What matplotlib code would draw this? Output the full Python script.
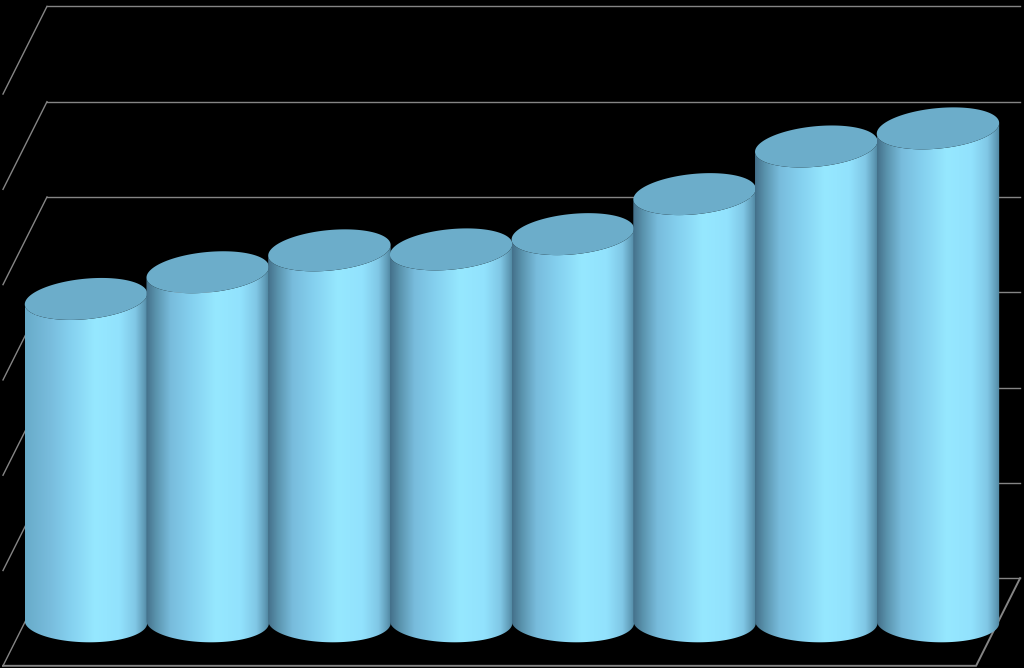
import numpy as np
import matplotlib
matplotlib.use("Agg")
import matplotlib.pyplot as plt
from matplotlib.colors import LinearSegmentedColormap
from matplotlib.patches import Polygon

categories = ["A", "B", "C", "D", "E", "F", "G", "H"]
values = [3.39, 3.67, 3.90, 3.91, 4.07, 4.49, 4.99, 5.18]
grid_levels = [0, 1, 2, 3, 4, 5, 6]

depth = 0.46
side_dx = 0.3615
bar_a = 0.503
bar_b = 0.213
lid_shear = 0.056

shade = LinearSegmentedColormap.from_list("cyl", [
    (0.00, "#44708a"), (0.08, "#5a93ad"), (0.20, "#78bcdc"), (0.36, "#84cfee"),
    (0.57, "#96e8ff"), (0.77, "#92e2fd"), (0.90, "#80c7e5"), (0.97, "#609bb7"),
    (1.00, "#4f86a0"),
])
shade_first = LinearSegmentedColormap.from_list("cyl1", [
    (0.00, "#68abc9"), (0.20, "#78bcdc"), (0.36, "#84cfee"),
    (0.57, "#96e8ff"), (0.77, "#92e2fd"), (0.90, "#80c7e5"), (0.97, "#609bb7"),
    (1.00, "#4f86a0"),
])


def lid_edge(val, t):
    return val + bar_b * np.sin(t) + lid_shear * np.cos(t)


fig = plt.figure(figsize=(10.24, 6.68), dpi=100, facecolor="black")
ax = fig.add_axes([0, 0, 1, 1])
ax.set_facecolor("black")
ax.axis("off")

left = -0.3205
right = 7.675
grid_color = "#858585"
for lev in grid_levels:
    ax.plot([left - side_dx, left], [lev - depth, lev + depth], color=grid_color, lw=1, zorder=1)
    ax.plot([left, right], [lev + depth, lev + depth], color=grid_color, lw=1, zorder=1)
# floor front edge and right side
ax.plot([left - side_dx, right - side_dx, right],
        [grid_levels[0] - depth, grid_levels[0] - depth, grid_levels[0] + depth],
        color=grid_color, lw=1.4, zorder=1)

t_low = np.linspace(np.pi, 2 * np.pi, 120)
t_all = np.linspace(0, 2 * np.pi, 240)
grad = np.linspace(0, 1, 256).reshape(1, -1)
for i, val in enumerate(values):
    x_low = i + bar_a * np.cos(t_low)
    y_bot = 0 + bar_b * np.sin(t_low) - 0.012 * np.cos(t_low)
    y_top = lid_edge(val, t_low)
    body = np.vstack([np.column_stack([x_low, y_bot]),
                      np.column_stack([x_low[::-1], y_top[::-1]])])
    patch = Polygon(body, closed=True, fc="none", ec="none", transform=ax.transData)
    ax.add_patch(patch)
    im = ax.imshow(grad, cmap=shade_first if i == 0 else shade, aspect="auto",
                   extent=[i - bar_a, i + bar_a, -0.4, val + 0.4], zorder=2 + i)
    im.set_clip_path(patch)
    lid = np.column_stack([i + bar_a * np.cos(t_all), lid_edge(val, t_all)])
    ax.add_patch(Polygon(lid, closed=True, fc="#6cadca", ec="none", zorder=2 + i))

ax.set_xlim(-0.7066, 7.707)
ax.set_ylim(-0.483, 6.527)
fig.savefig("out.png", dpi=100, facecolor="black")
